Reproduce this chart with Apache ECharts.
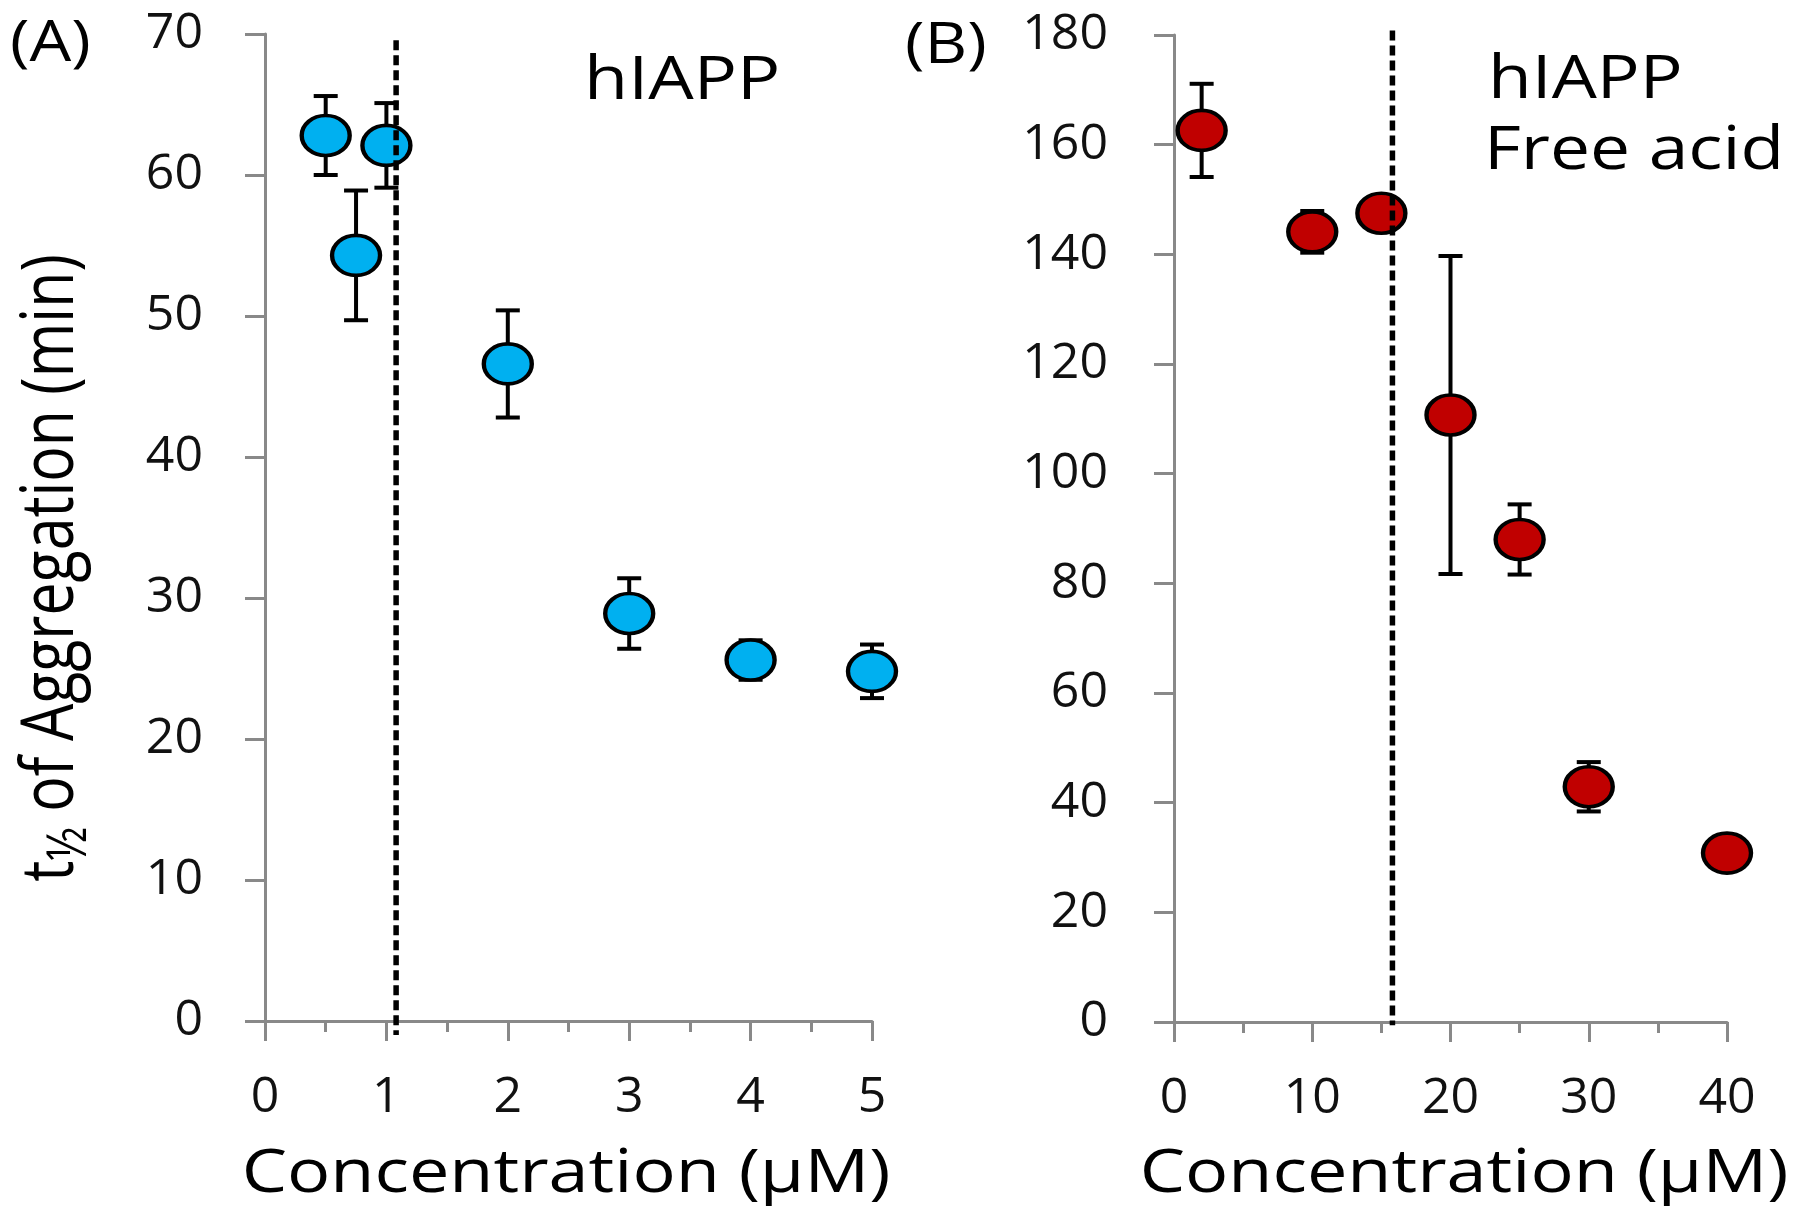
<!DOCTYPE html>
<html><head><meta charset="utf-8">
<script src="https://cdn.jsdelivr.net/npm/echarts@6/dist/echarts.min.js"></script>
<style>html,body{margin:0;padding:0;background:#fff}#c{width:1800px;height:1215px}</style>
</head><body><div id="c"></div>
<script>
// Panel A: hIAPP
const concA = [0.5, 0.75, 1, 2, 3, 4, 5];
const t50A  = [62.8, 54.3, 62.1, 46.6, 28.9, 25.6, 24.8];
const errA  = [2.8, 4.6, 3.0, 3.8, 2.5, 1.4, 1.9];
const cmcA  = 1.08;
const cmcSpanA = [69.55, -1];
// Panel B: hIAPP free acid
const concB = [2, 10, 15, 20, 25, 30, 40];
const t50B  = [162.6, 144.1, 147.5, 110.7, 88.0, 42.9, 30.8];
const errB  = [8.5, 3.8, 2.5, 29.0, 6.4, 4.5, 1.5];
const cmcB  = 15.8;
const cmcSpanB = [180.8, -0.6];
// axis ranges [min, max, interval]
const xRangeA = [0, 5, 1];
const yRangeA = [0, 70, 10];
const xRangeB = [0, 40, 10];
const yRangeB = [0, 180, 20];

const FONT = "'Open Sans', 'Noto Sans', sans-serif";
const AX = '#898989';

function errRender(params, api) {
  const x = api.value(0), lo = api.value(1), hi = api.value(2);
  const a = api.coord([x, lo]), b = api.coord([x, hi]);
  const c = 12;
  const st = {stroke: '#000', lineWidth: 4, fill: null};
  return {type: 'group', children: [
    {type: 'line', shape: {x1: a[0], y1: a[1], x2: b[0], y2: b[1]}, style: st},
    {type: 'line', shape: {x1: b[0] - c, y1: b[1], x2: b[0] + c, y2: b[1]}, style: st},
    {type: 'line', shape: {x1: a[0] - c, y1: a[1], x2: a[0] + c, y2: a[1]}, style: st}
  ]};
}

function xAxisCfg(idx, r, margin) {
  return {
    type: 'value', gridIndex: idx, min: r[0], max: r[1], interval: r[2],
    axisLine: {show: true, lineStyle: {color: AX, width: 3}},
    axisTick: {show: true, length: 20, lineStyle: {color: AX, width: 3}},
    minorTick: {show: true, splitNumber: 2, length: 11, lineStyle: {color: AX, width: 3}},
    splitLine: {show: false}, minorSplitLine: {show: false},
    axisLabel: {fontSize: 50, fontFamily: FONT, color: '#111', margin: margin}
  };
}
function yAxisCfg(idx, r, margin) {
  return {
    type: 'value', gridIndex: idx, min: r[0], max: r[1], interval: r[2],
    axisLine: {show: true, lineStyle: {color: AX, width: 3}},
    axisTick: {show: true, length: 20, lineStyle: {color: AX, width: 3}},
    splitLine: {show: false},
    axisLabel: {fontSize: 50, fontFamily: FONT, color: '#111', margin: margin}
  };
}

function txt(x, y, text, size, align, sx) {
  return {type: 'text', x: x, y: y, scaleX: sx, z: 20,
    style: {text: text, fontSize: size, fontFamily: FONT, fill: '#000',
            align: align, verticalAlign: 'middle'}};
}

const chart = echarts.init(document.getElementById('c'), null, {renderer: 'canvas'});
chart.setOption({
  backgroundColor: '#fff',
  animation: false,
  grid: [
    {left: 265, top: 34, width: 607, height: 987},
    {left: 1174, top: 35, width: 553, height: 987}
  ],
  xAxis: [xAxisCfg(0, xRangeA, 52), xAxisCfg(1, xRangeB, 52)],
  yAxis: [yAxisCfg(0, yRangeA, 62), yAxisCfg(1, yRangeB, 66)],
  series: [
    {type: 'custom', xAxisIndex: 0, yAxisIndex: 0, z: 3, clip: false,
     renderItem: errRender,
     data: concA.map((x, i) => [x, t50A[i] - errA[i], t50A[i] + errA[i]])},
    {type: 'scatter', xAxisIndex: 0, yAxisIndex: 0, z: 5,
     symbol: 'circle', symbolSize: [48, 40],
     itemStyle: {color: '#00B0F0', borderColor: '#000', borderWidth: 4, opacity: 1},
     data: concA.map((x, i) => [x, t50A[i]])},
    {type: 'line', xAxisIndex: 0, yAxisIndex: 0, z: 8, clip: false, symbol: 'none',
     lineStyle: {color: '#000', width: 5.5, type: [10, 5]},
     data: cmcSpanA.map(v => [cmcA, v])},
    {type: 'custom', xAxisIndex: 1, yAxisIndex: 1, z: 3, clip: false,
     renderItem: errRender,
     data: concB.map((x, i) => [x, t50B[i] - errB[i], t50B[i] + errB[i]])},
    {type: 'scatter', xAxisIndex: 1, yAxisIndex: 1, z: 5,
     symbol: 'circle', symbolSize: [48, 40],
     itemStyle: {color: '#C00000', borderColor: '#000', borderWidth: 4, opacity: 1},
     data: concB.map((x, i) => [x, t50B[i]])},
    {type: 'line', xAxisIndex: 1, yAxisIndex: 1, z: 8, clip: false, symbol: 'none',
     lineStyle: {color: '#000', width: 5.5, type: [10, 5]},
     data: cmcSpanB.map(v => [cmcB, v])}
  ],
  graphic: [
    txt(10, 45, '(A)', 56, 'left', 1.18),
    txt(905, 47, '(B)', 56, 'left', 1.18),
    txt(584, 82, 'hIAPP', 61, 'left', 1.18),
    txt(1488, 81, 'hIAPP', 61, 'left', 1.17),
    txt(1484, 152, 'Free acid', 61, 'left', 1.17),
    txt(566, 1175, 'Concentration (µM)', 60, 'center', 1.2),
    txt(1464, 1175, 'Concentration (µM)', 60, 'center', 1.2),
    {type: 'text', x: 52, y: 568, rotation: Math.PI / 2, scaleY: 1.24, z: 20,
     style: {
       text: '{a|t}{b|½}{a| of Aggregation (min)}',
       align: 'center', verticalAlign: 'middle', fill: '#000',
       rich: {
         a: {fontSize: 59, fontFamily: FONT, fill: '#000', lineHeight: 74},
         b: {fontSize: 44, fontFamily: FONT, fill: '#000', lineHeight: 50, verticalAlign: 'bottom'}
       }
     }}
  ]
});
</script></body></html>
